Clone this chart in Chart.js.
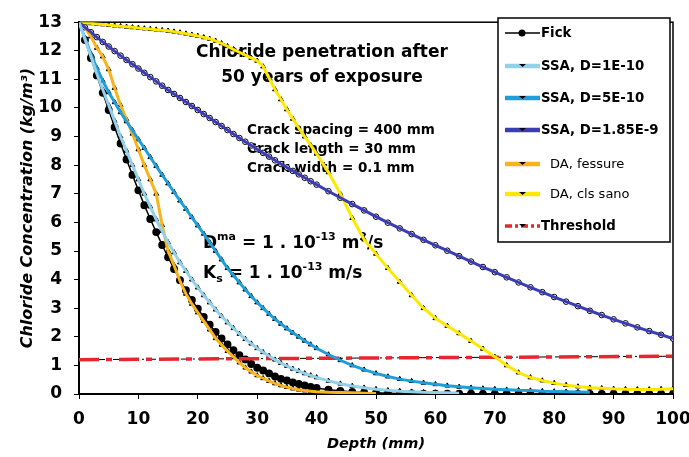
<!DOCTYPE html>
<html>
<head>
<meta charset="utf-8">
<script src="https://cdn.jsdelivr.net/npm/chart.js@4.4.1/dist/chart.umd.min.js"></script>
<style>
  html, body { margin: 0; padding: 0; background: #fff; }
  #wrap { width: 689px; height: 457px; }
</style>
</head>
<body>
<div id="wrap"><canvas id="chart" width="689" height="457"></canvas></div>
<script>
// depth in mm (1 mm step near the surface, 2 mm further in)
const depth = [0,1,2,3,4,5,6,7,8,9,10,11,12,13,14,15,16,17,18,19,20,21,22,23,24,25,26,27,28,29,30,31,32,33,34,35,36,37,38,39,40,
  42,44,46,48,50,52,54,56,58,60,62,64,66,68,70,72,74,76,78,80,82,84,86,88,90,92,94,96,98,100];

const seriesNames = ['Fick', 'SSA, D=1E-10', 'SSA, D=5E-10', 'SSA, D=1.85E-9', 'DA, fessure', 'DA, cls sano', 'Threshold'];

// chloride concentration, kg/m3
const fick = [13.0,12.38,11.75,11.14,10.53,9.93,9.33,8.76,8.2,7.66,7.12,6.6,6.12,5.66,5.21,4.78,4.37,3.98,3.63,3.29,2.98,2.69,2.42,2.17,1.94,1.73,1.53,1.36,1.21,1.05,0.92,0.82,0.72,0.61,0.53,0.47,0.4,0.35,0.3,0.25,0.21,
  0.15,0.11,0.07,0.05,0.04,0.03,0.02,0.02,0.01,0.01,0.01,0.01,0.01,0,0,0,0,0,0,0,0,0,0,0,0,0,0,0,0,0];
const ssa1e10 = [13.0,12.4,11.8,11.2,10.65,10.1,9.55,9.0,8.5,8.0,7.5,7.0,6.55,6.1,5.7,5.3,4.95,4.6,4.3,4.0,3.72,3.45,3.2,2.95,2.72,2.5,2.3,2.1,1.92,1.76,1.6,1.46,1.33,1.2,1.08,0.98,0.88,0.8,0.72,0.65,0.58,
  0.46,0.36,0.28,0.22,0.17,0.13,0.1,0.08,0.06,0.05,0.04,0.03,null,null,null,null,null,null,null,null,null,null,null,null,null,null,null,null];
const ssa5e10 = [13.0,12.45,11.9,11.4,10.95,10.55,10.2,9.85,9.53,9.22,8.9,8.6,8.28,7.97,7.66,7.36,7.06,6.76,6.47,6.18,5.89,5.6,5.3,5.0,4.7,4.4,4.15,3.9,3.65,3.42,3.2,3.0,2.8,2.62,2.45,2.29,2.14,2.0,1.86,1.73,1.6,
  1.38,1.18,1.0,0.85,0.72,0.61,0.52,0.45,0.39,0.34,0.29,0.25,0.22,0.19,0.17,0.15,0.13,0.12,0.1,0.09,0.08,0.07,0.06,null,null,null,null,null,null,null];
const ssa185e9 = [13.0,12.82,12.65,12.48,12.31,12.15,11.99,11.83,11.68,11.53,11.38,11.23,11.08,10.93,10.78,10.63,10.49,10.35,10.21,10.07,9.93,9.79,9.65,9.51,9.37,9.23,9.09,8.95,8.82,8.69,8.56,8.43,8.3,8.17,8.04,7.92,7.8,7.68,7.56,7.44,7.32,
  7.09,6.86,6.64,6.42,6.2,5.99,5.79,5.59,5.39,5.2,5.01,4.82,4.63,4.44,4.26,4.08,3.9,3.73,3.56,3.39,3.23,3.07,2.91,2.76,2.61,2.47,2.33,2.2,2.07,1.94];
const daFessure = [13.0,12.8,12.5,12.1,11.8,11.35,10.7,10.1,9.6,9.1,8.55,8.0,7.5,7.0,5.9,5.0,4.5,3.95,3.5,3.15,2.85,2.55,2.25,1.95,1.72,1.5,1.3,1.1,0.92,0.78,0.65,0.55,0.45,0.37,0.3,0.24,0.19,0.15,0.12,0.1,0.08,
  0.06,0.05,0.04,0.03,0.02,null,null,null,null,null,null,null,null,null,null,null,null,null,null,null,null,null,null,null,null,null,null,null,null,null];
const daClsSano = [13.0,12.98,12.96,12.94,12.92,12.9,12.88,12.86,12.84,12.82,12.8,12.78,12.76,12.74,12.72,12.7,12.67,12.64,12.6,12.56,12.52,12.47,12.42,12.35,12.26,12.16,12.05,11.95,11.85,11.75,11.65,11.45,11.05,10.65,10.3,9.95,9.62,9.3,9.0,8.7,8.4,
  7.75,7.0,6.15,5.4,4.9,4.4,3.92,3.45,3.0,2.65,2.38,2.12,1.85,1.58,1.3,1.0,0.75,0.58,0.47,0.38,0.31,0.26,0.22,0.2,0.18,0.17,0.16,0.16,0.17,0.18];

const thresholdDepth = [0, 100];
const threshold = [1.2, 1.32];

const xTicks = [0, 10, 20, 30, 40, 50, 60, 70, 80, 90, 100];
const yTicks = [0, 1, 2, 3, 4, 5, 6, 7, 8, 9, 10, 11, 12, 13];

const FONT = '"DejaVu Sans", Arial, sans-serif';
Chart.defaults.font.family = FONT;
Chart.defaults.color = '#000';

function toPoints(xs, values) {
  return xs.map((d, i) => ({ x: d, y: values[i] })).filter((p) => p.y !== null);
}

// coloured curves, drawn over black marker traces
const curves = [
  { name: seriesNames[1], values: ssa1e10, color: '#93D1EA', marker: 'triangle' },
  { name: seriesNames[2], values: ssa5e10, color: '#1E9EDA', marker: 'triangle' },
  { name: seriesNames[3], values: ssa185e9, color: '#3C3CB4', marker: 'circle' },
  { name: seriesNames[4], values: daFessure, color: '#F9B31B', marker: 'triangle' },
  { name: seriesNames[5], values: daClsSano, color: '#FFE800', marker: 'triangle' },
];

const datasets = [];
curves.forEach((c) => {
  datasets.push({
    label: c.name,
    data: toPoints(depth, c.values),
    borderColor: c.color,
    borderWidth: 3,
    pointRadius: 0,
    order: 1,
  });
  datasets.push({
    label: c.name + ' markers',
    data: toPoints(depth, c.values),
    borderColor: '#000',
    borderWidth: 1,
    borderDash: [4, 3],
    pointStyle: c.marker,
    pointRadius: 2.8,
    pointBackgroundColor: c.marker === 'circle' ? '#fff' : '#000',
    pointBorderColor: '#000',
    pointBorderWidth: 1,
    order: 10,
  });
});
datasets.push({
  label: seriesNames[0],
  data: toPoints(depth, fick),
  borderColor: '#000',
  borderWidth: 1.5,
  pointStyle: 'circle',
  pointRadius: 3.2,
  pointBackgroundColor: '#000',
  pointBorderColor: '#000',
  order: 5,
});
datasets.push({
  label: seriesNames[6],
  data: toPoints(thresholdDepth, threshold),
  borderColor: '#E8262D',
  borderWidth: 3.5,
  borderDash: [20, 7, 6, 7],
  pointRadius: 0,
  order: 1,
});
datasets.push({
  label: seriesNames[6] + ' base',
  data: toPoints(thresholdDepth, threshold),
  borderColor: '#000',
  borderWidth: 1,
  borderDash: [9, 3, 2, 3],
  pointRadius: 0,
  order: 10,
});

function drawRuns(ctx, runs, x, y) {
  for (const r of runs) {
    ctx.font = `bold ${r.size}px ${FONT}`;
    ctx.fillText(r.text, x, y + (r.dy || 0));
    x += ctx.measureText(r.text).width;
  }
}

// frame and annotation text, under the curves
const annotations = {
  id: 'annotations',
  beforeDatasetsDraw(chart) {
    const ctx = chart.ctx;
    const a = chart.chartArea;
    ctx.save();
    ctx.strokeStyle = '#000';
    ctx.lineWidth = 1.5;
    ctx.strokeRect(a.left, a.top, a.right - a.left, a.bottom - a.top);

    ctx.fillStyle = '#000';
    ctx.textBaseline = 'alphabetic';
    ctx.textAlign = 'center';
    ctx.font = `bold 17px ${FONT}`;
    ctx.fillText('Chloride penetration after', 322, 57);
    ctx.fillText('50 years of exposure', 322, 82);

    ctx.textAlign = 'left';
    ctx.font = `bold 13.5px ${FONT}`;
    ctx.fillText('Crack spacing = 400 mm', 247, 134);
    ctx.fillText('Crack length = 30 mm', 247, 153);
    ctx.fillText('Crack width = 0.1 mm', 247, 172);

    drawRuns(ctx, [
      { text: 'D', size: 17 },
      { text: 'ma', size: 11, dy: -8 },
      { text: ' = 1 . 10', size: 17 },
      { text: '-13', size: 11, dy: -8 },
      { text: ' m', size: 17 },
      { text: '2', size: 11, dy: -8 },
      { text: '/s', size: 17 },
    ], 203, 248);
    drawRuns(ctx, [
      { text: 'K', size: 17 },
      { text: 's', size: 11, dy: 4 },
      { text: ' = 1 . 10', size: 17 },
      { text: '-13', size: 11, dy: -8 },
      { text: ' m/s', size: 17 },
    ], 203, 278);
    ctx.restore();
  },
};

// boxed legend in the upper right corner
const boxLegend = {
  id: 'boxLegend',
  afterDraw(chart) {
    const ctx = chart.ctx;
    const rows = [
      { name: seriesNames[0], color: '#000', width: 1.5, marker: 'dot' },
      { name: seriesNames[1], color: '#93D1EA', width: 4.5 },
      { name: seriesNames[2], color: '#1E9EDA', width: 4.5 },
      { name: seriesNames[3], color: '#3C3CB4', width: 4.5 },
      { name: seriesNames[4], color: '#F9B31B', width: 4.5, plain: true },
      { name: seriesNames[5], color: '#FFE800', width: 4.5, plain: true },
      { name: seriesNames[6], color: '#E8262D', width: 3.5, dash: [7, 3, 3, 3] },
    ];
    const rowY = [33, 66, 98, 130, 164, 194, 226];

    ctx.save();
    ctx.fillStyle = '#fff';
    ctx.fillRect(498, 18, 172, 224);
    ctx.strokeStyle = '#000';
    ctx.lineWidth = 1.5;
    ctx.strokeRect(498, 18, 172, 224);

    rows.forEach((r, i) => {
      const y = rowY[i];
      ctx.save();
      ctx.strokeStyle = r.color;
      ctx.lineWidth = r.width;
      if (r.dash) ctx.setLineDash(r.dash);
      ctx.beginPath();
      ctx.moveTo(505, y);
      ctx.lineTo(540, y);
      ctx.stroke();
      ctx.restore();

      ctx.fillStyle = '#000';
      ctx.beginPath();
      if (r.marker === 'dot') {
        ctx.arc(522, y, 3.5, 0, 2 * Math.PI);
      } else {
        ctx.moveTo(519, y - 2);
        ctx.lineTo(526, y - 2);
        ctx.lineTo(522.5, y + 1);
      }
      ctx.fill();

      ctx.textBaseline = 'middle';
      ctx.textAlign = 'left';
      if (r.plain) {
        ctx.font = `13px ${FONT}`;
        ctx.fillText(r.name, 550, y + 1);
      } else {
        ctx.font = `bold 13.3px ${FONT}`;
        ctx.fillText(r.name, 541, y + 1);
      }
    });
    ctx.restore();
  },
};

new Chart(document.getElementById('chart'), {
  type: 'line',
  data: { datasets: datasets },
  options: {
    responsive: false,
    animation: false,
    events: [],
    layout: { padding: { top: 20, right: 16, left: 0, bottom: 0 } },
    elements: { line: { tension: 0, fill: false } },
    plugins: {
      legend: { display: false },
      tooltip: { enabled: false },
    },
    scales: {
      x: {
        type: 'linear',
        min: 0,
        max: 100,
        afterBuildTicks: (scale) => { scale.ticks = xTicks.map((v) => ({ value: v })); },
        ticks: { color: '#000', font: { size: 17, weight: 'bold' }, padding: 10, maxRotation: 0 },
        grid: { drawOnChartArea: false, drawTicks: true, tickLength: 5, color: '#000', lineWidth: 1 },
        border: { display: true, color: '#000', width: 2 },
        title: {
          display: true,
          text: 'Depth (mm)',
          color: '#000',
          font: { size: 14.5, weight: 'bold', style: 'italic' },
          padding: { top: 0, bottom: 4 },
        },
        afterFit: (scale) => { scale.height = 63; scale.paddingRight = 0; },
      },
      y: {
        type: 'linear',
        min: 0,
        max: 13,
        afterBuildTicks: (scale) => { scale.ticks = yTicks.map((v) => ({ value: v })); },
        ticks: { color: '#000', font: { size: 17, weight: 'bold' }, padding: 12 },
        grid: { drawOnChartArea: false, drawTicks: true, tickLength: 5, color: '#000', lineWidth: 1 },
        border: { display: true, color: '#000', width: 2 },
        title: {
          display: true,
          text: 'Chloride Concentration (kg/m³)',
          color: '#000',
          font: { size: 16, weight: 'bold', style: 'italic' },
          padding: { top: 18, bottom: 0 },
        },
        afterFit: (scale) => { scale.width = 79; },
      },
    },
  },
  plugins: [annotations, boxLegend],
});
</script>
</body>
</html>
